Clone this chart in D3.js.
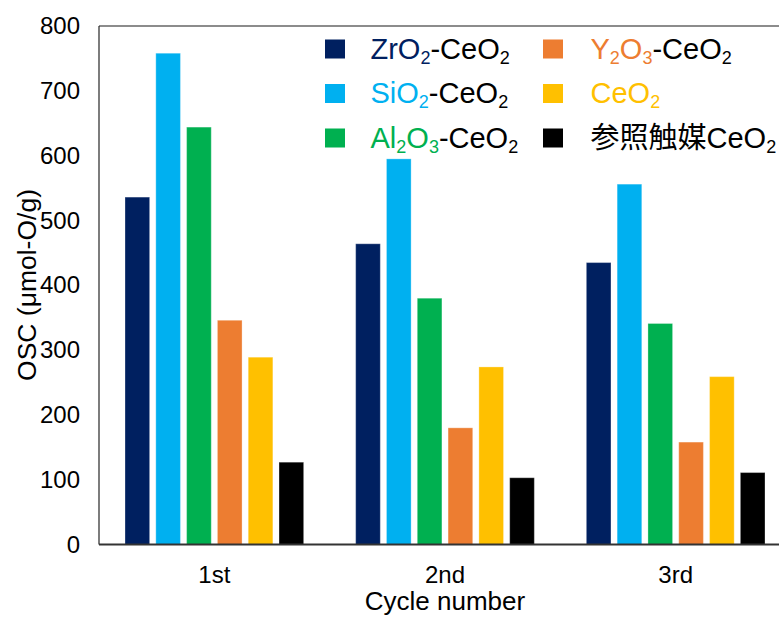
<!DOCTYPE html>
<html>
<head>
<meta charset="utf-8">
<script src="https://cdn.jsdelivr.net/npm/d3@7/dist/d3.min.js"></script>
<style>
  html, body { margin: 0; padding: 0; background: #fff; }
  svg { display: block; }
  text { font-family: "Liberation Sans", Arial, "Noto Sans CJK JP", sans-serif; }
</style>
</head>
<body>
<svg id="chart" width="779" height="618"></svg>
<script>
// ---- data ----
const categories = ["1st", "2nd", "3rd"];
const seriesNames = ["ZrO2-CeO2", "SiO2-CeO2", "Al2O3-CeO2", "Y2O3-CeO2", "CeO2", "参照触媒CeO2"];
const seriesColors = ["#002060", "#00B0F0", "#00B050", "#ED7D31", "#FFC000", "#000000"];
const zrO2Values = [536, 464, 435];
const siO2Values = [758, 595, 556];
const al2O3Values = [644, 380, 341];
const y2O3Values = [346, 180, 158];
const ceO2Values = [289, 274, 259];
const refValues = [127, 103, 111];
const yTicks = [0, 100, 200, 300, 400, 500, 600, 700, 800];
const xTitle = "Cycle number";
const yTitle = "OSC (μmol-O/g)";

const seriesValues = [zrO2Values, siO2Values, al2O3Values, y2O3Values, ceO2Values, refValues];

(function () {
// ---- layout ----
const svg = d3.select("#chart");
const pLeft = 99, pRight = 791, pTop = 26, pBottom = 544.5;

const x0 = d3.scaleBand().domain(categories).range([pLeft, pRight]).padding(0);
const x1 = d3.scaleBand().domain(seriesNames)
  .range([26, x0.bandwidth() - 26]).paddingInner(0.2).paddingOuter(0);
const y = d3.scaleLinear().domain([0, 800]).range([pBottom, pTop]);

// bars
const groups = svg.append("g").selectAll("g")
  .data(categories).join("g")
  .attr("transform", d => `translate(${x0(d)},0)`);

groups.selectAll("rect")
  .data((c, ci) => seriesNames.map((s, si) => ({ s, si, v: seriesValues[si][ci] })))
  .join("rect")
  .attr("x", d => x1(d.s))
  .attr("width", x1.bandwidth())
  .attr("y", d => y(d.v))
  .attr("height", d => y(0) - y(d.v))
  .attr("fill", d => seriesColors[d.si])
  .attr("stroke", "#ffffff")
  .attr("stroke-opacity", 0.3)
  .attr("stroke-width", 1);

// frame
svg.append("line").attr("x1", pLeft).attr("x2", 779).attr("y1", pTop).attr("y2", pTop)
  .attr("stroke", "#1a1a1a").attr("stroke-width", 1.2);
svg.append("line").attr("x1", pLeft).attr("x2", pLeft).attr("y1", pTop).attr("y2", pBottom)
  .attr("stroke", "#262626").attr("stroke-width", 1.2);

// y axis (labels only)
const yAxis = d3.axisLeft(y).tickValues(yTicks).tickSize(0).tickPadding(19);
const yg = svg.append("g").attr("transform", `translate(${pLeft},0)`).call(yAxis);
yg.select(".domain").remove();
yg.selectAll("text").attr("font-size", 24).attr("fill", "#000")
  .style("font-family", '"Liberation Sans", Arial, sans-serif');

// x axis
const xAxis = d3.axisBottom(x0).tickSize(0).tickPadding(21);
const xg = svg.append("g").attr("transform", `translate(0,${pBottom})`).call(xAxis);
xg.select(".domain").attr("stroke", "#333").attr("stroke-width", 1.8).attr("d", `M${pLeft},0H779`);
xg.selectAll("text").attr("font-size", 24).attr("fill", "#000")
  .style("font-family", '"Liberation Sans", Arial, sans-serif');

// axis titles
svg.append("text").attr("x", 445).attr("y", 610).attr("text-anchor", "middle")
  .attr("font-size", 26).attr("fill", "#000").text(xTitle);
svg.append("text").attr("transform", `translate(36,285) rotate(-90)`)
  .attr("text-anchor", "middle").attr("font-size", 26.5).attr("fill", "#000").text(yTitle);

// legend
function parts(label) {
  const out = [];
  let buf = "";
  for (let i = 0; i < label.length; i++) {
    const ch = label[i];
    const isDigit = /[0-9]/.test(ch);
    if (isDigit && i > 0 && /[A-Za-z]/.test(label[i - 1])) {
      if (buf) out.push([buf, false]);
      buf = "";
      out.push([ch, true]);
    } else {
      buf += ch;
    }
  }
  if (buf) out.push([buf, false]);
  return out;
}

const legendCols = [325, 543];
const legendTextCols = [370.5, 590.5];
const legendRows = [58.5, 103, 147.5];
const subShift = 5;

seriesNames.forEach((name, i) => {
  const col = Math.floor(i / 3), row = i % 3;
  const color = seriesColors[i];
  svg.append("rect")
    .attr("x", legendCols[col]).attr("y", legendRows[row] - 19)
    .attr("width", 20).attr("height", 19).attr("fill", color);
  const dash = name.indexOf("-");
  const colored = dash >= 0 ? name.slice(0, dash) : name;
  const rest = dash >= 0 ? name.slice(dash) : "";
  const t = svg.append("text").attr("x", legendTextCols[col]).attr("y", legendRows[row])
    .attr("font-size", 29);
  let lowered = false;
  const addChunks = (str, fill) => {
    parts(str).forEach(([s, sub]) => {
      const ts = t.append("tspan").attr("fill", fill).text(s);
      if (sub) {
        ts.attr("font-size", 18).attr("dy", lowered ? 0 : subShift);
        lowered = true;
      } else if (lowered) {
        ts.attr("dy", -subShift);
        lowered = false;
      }
    });
  };
  addChunks(colored, color);
  if (rest) addChunks(rest, "#000");
});
})();
</script>
</body>
</html>
